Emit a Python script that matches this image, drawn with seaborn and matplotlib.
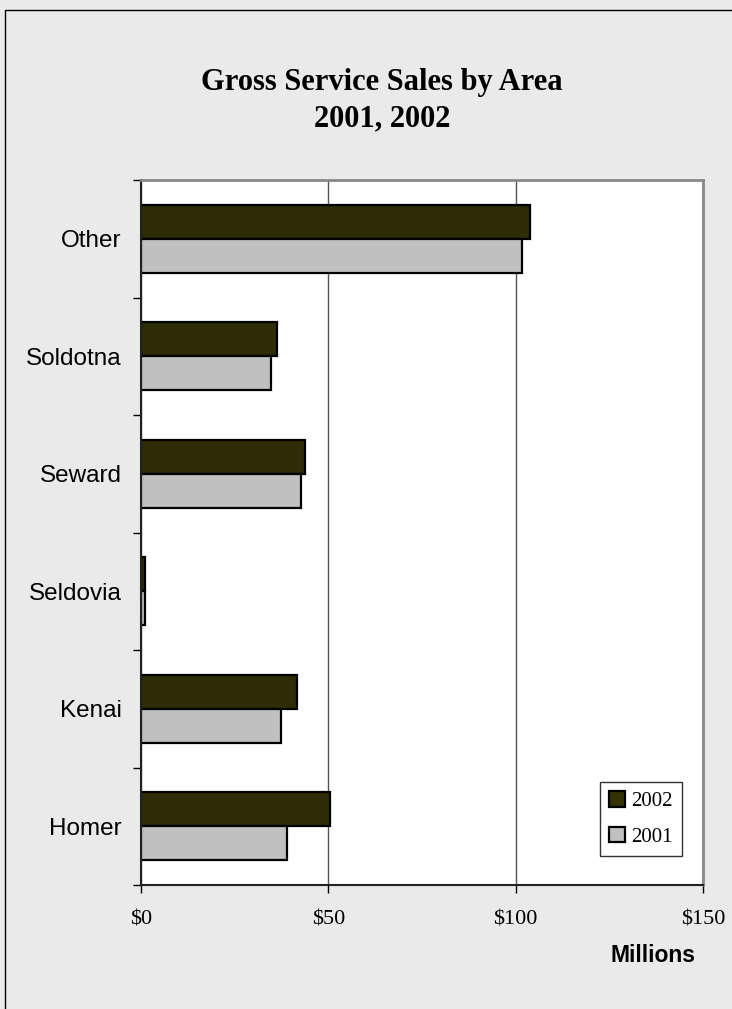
import matplotlib
matplotlib.use("Agg")
import matplotlib.pyplot as plt
from matplotlib.patches import Patch, Rectangle
import pandas as pd
import seaborn as sns

# Data (millions of dollars)
areas = ["Other", "Soldotna", "Seward", "Seldovia", "Kenai", "Homer"]
sales_2002 = [103.7, 36.3, 43.8, 1.0, 41.6, 50.5]
sales_2001 = [101.6, 34.7, 42.7, 1.0, 37.4, 39.0]
years = ["2002", "2001"]
colors = {"2002": "#333300", "2001": "#C0C0C0"}
x_ticks = [0, 50, 100, 150]
x_labels = ["$0", "$50", "$100", "$150"]

df = pd.DataFrame({
    "Area": areas * 2,
    "Sales": sales_2002 + sales_2001,
    "Year": ["2002"] * len(areas) + ["2001"] * len(areas),
})

sns.set_style("white")
plt.rcParams["font.family"] = ["Liberation Serif", "DejaVu Serif"]
plt.rcParams["text.color"] = "black"
plt.rcParams["xtick.color"] = "black"
plt.rcParams["ytick.color"] = "black"
plt.rcParams["xtick.labelcolor"] = "black"
plt.rcParams["ytick.labelcolor"] = "black"

fig = plt.figure(figsize=(7.32, 10.09), dpi=100, facecolor="#EAEAEA")
ax = fig.add_axes([141 / 732, 1 - 885 / 1009, 562 / 732, 705 / 1009])
ax.set_facecolor("white")

sns.barplot(data=df, y="Area", x="Sales", hue="Year", hue_order=years,
            order=areas, palette=colors, orient="h", width=0.58,
            edgecolor="black", linewidth=1.6, errorbar=None, legend=False, ax=ax)

# axes styling
ax.set_xlim(0, 150)
ax.set_ylim(len(areas) - 0.5, -0.5)
ax.set_xticks(x_ticks)
ax.set_xticklabels(x_labels, fontsize=16)
ax.tick_params(axis="x", bottom=True, length=6, width=1, color="black", pad=12, direction="out")
ax.set_yticks(range(len(areas)))
ax.set_yticklabels(areas, fontsize=17.5, family=["Liberation Sans", "DejaVu Sans"])
ax.tick_params(axis="y", which="major", left=True, length=0, pad=14)
ax.set_yticks([i - 0.5 for i in range(len(areas) + 1)], minor=True)
ax.tick_params(axis="y", which="minor", left=True, length=6, width=1, color="black", direction="out")
ax.set_xlabel("")
ax.set_ylabel("")

ax.xaxis.grid(True, color="#555555", linewidth=1)
ax.set_axisbelow(True)

for side in ["top", "right"]:
    ax.spines[side].set_visible(True)
    ax.spines[side].set_color("#888888")
    ax.spines[side].set_linewidth(2)
for side in ["left", "bottom"]:
    ax.spines[side].set_visible(True)
    ax.spines[side].set_color("#222222")
    ax.spines[side].set_linewidth(1.5)

handles = [Patch(facecolor=colors[y], edgecolor="black", linewidth=1.6, label=y) for y in years]
leg = ax.legend(handles=handles, loc="lower right", bbox_to_anchor=(0.9626, 0.041),
                fontsize=15, frameon=True, fancybox=False, edgecolor="black",
                handlelength=0.75, handleheight=0.75, handletextpad=0.3,
                labelspacing=0.75, borderpad=0.45, borderaxespad=0)
leg.get_frame().set_linewidth(1)

fig.text(382 / 732, 1 - 101 / 1009, "Gross Service Sales by Area\n2001, 2002",
         ha="center", va="center", fontsize=22, fontweight="bold", linespacing=1.35)
fig.text(653 / 732, 1 - 955 / 1009, "Millions", ha="center", va="center",
         fontsize=16.5, fontweight="bold", family=["Liberation Sans", "DejaVu Sans"])

# outer chart border
fig.patches.append(Rectangle((5 / 732, -0.02), 1.0, 1 - 10 / 1009 + 0.02,
                             transform=fig.transFigure, fill=False,
                             edgecolor="black", linewidth=1))

fig.savefig("out.png", dpi=100, facecolor=fig.get_facecolor())
